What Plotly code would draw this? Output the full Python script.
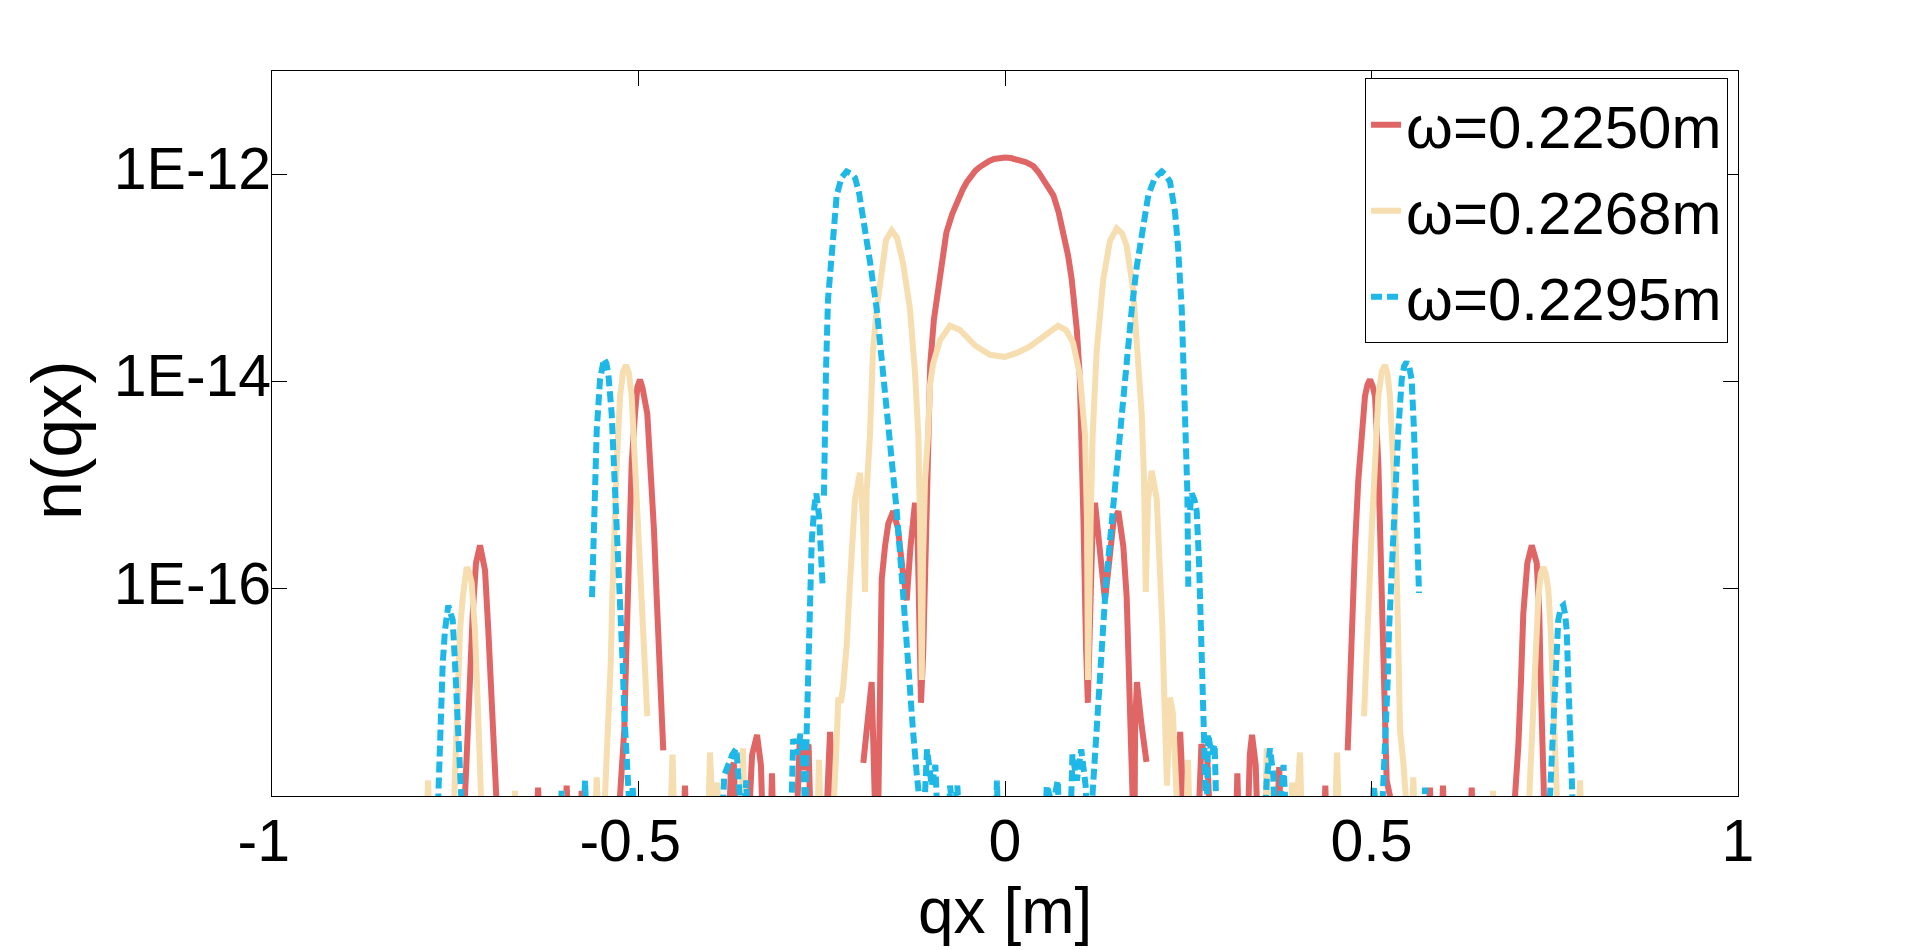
import plotly.graph_objects as go

# momentum qx and log10 of n(qx); None = no value (gap in the curve)
red_qx = [-0.800, -0.745, -0.7367, -0.7330, -0.7299, -0.7262, -0.7217, -0.7162, -0.7094, -0.7049,
          -0.7016, -0.6981, -0.6944, -0.690, -0.641, -0.637, -0.633, -0.602, -0.598, -0.594,
          -0.581, -0.5775, -0.574, -0.528, -0.5252, -0.5229, -0.5194, -0.5171, -0.5147, -0.5126,
          -0.5093, -0.5048, -0.5015, -0.4980, -0.4945, -0.4880, -0.4834, -0.4789, -0.4752, -0.4716,
          -0.4684, -0.4662, -0.4650, -0.440, -0.4366, -0.433, -0.378, -0.374, -0.370, -0.366,
          -0.352, -0.345, -0.3383, -0.333, -0.329, -0.321, -0.3179, -0.315, -0.286, -0.280,
          -0.274, -0.268, -0.264, -0.246, -0.242, -0.2387, -0.235, -0.231, -0.1945, -0.1933,
          -0.1819, -0.1774, -0.1740, -0.1705, -0.1690, -0.1682, -0.1637, -0.1592, -0.1524, -0.1460,
          -0.1400, -0.1341, -0.1290, -0.1228, -0.1195, -0.1170, -0.1146, -0.1115, -0.1080, -0.1045,
          -0.1020, -0.0970, -0.0930, -0.0880, -0.0800, -0.0720, -0.0640, -0.0580, -0.0520, -0.0460,
          -0.0400, -0.0340, -0.0280, -0.0220, -0.0150, -0.0080, 0.0000, 0.0080, 0.0150, 0.0220,
          0.0280, 0.0340, 0.0390, 0.0460, 0.0520, 0.0590, 0.0660, 0.0730, 0.0796, 0.0860,
          0.0910, 0.0980, 0.1020, 0.1046, 0.1070, 0.1105, 0.1130, 0.1160, 0.1195, 0.1228,
          0.1290, 0.1364, 0.1420, 0.1480, 0.1546, 0.1614, 0.1660, 0.1705, 0.1737, 0.1750,
          0.1765, 0.1775, 0.1800, 0.1860, 0.1930, 0.1950, 0.232, 0.236, 0.239, 0.243,
          0.246, 0.262, 0.268, 0.276, 0.282, 0.314, 0.317, 0.320, 0.330, 0.334,
          0.337, 0.342, 0.346, 0.370, 0.374, 0.378, 0.434, 0.437, 0.440, 0.4660,
          0.4675, 0.4707, 0.4744, 0.4775, 0.4820, 0.4866, 0.4911, 0.4945, 0.4980, 0.5015,
          0.5048, 0.5093, 0.5116, 0.5139, 0.5153, 0.5171, 0.5207, 0.5252, 0.530, 0.576,
          0.5798, 0.583, 0.594, 0.5975, 0.601, 0.633, 0.6367, 0.640, 0.690, 0.6958,
          0.7003, 0.7040, 0.7071, 0.7126, 0.7186, 0.7254, 0.7289, 0.7308, 0.7330, 0.7353,
          0.745, 0.800]
red_lg = [-18.8, -18.6, -18.0, -17.52, -16.88, -16.24, -15.75, -15.58, -15.82, -16.40,
          -16.88, -17.52, -18.0, -18.6, -18.6, -17.92, -18.6, -18.6, -17.90, -18.6,
          -18.6, -17.95, -18.6, -18.6, -18.0, -17.68, -17.36, -16.72, -16.08, -15.43,
          -14.79, -14.31, -14.05, -13.98, -14.06, -14.31, -14.79, -15.43, -16.08, -16.72,
          -17.20, -17.56, None, -18.6, -17.90, -18.6, -18.6, -17.75, -17.68, -18.6,
          -18.6, -17.60, -17.41, -17.70, -18.6, -18.6, -17.78, -18.6, -18.6, -17.45,
          -17.75, -17.50, -18.6, -18.6, -17.70, -17.38, -17.95, -18.6, None, -17.68,
          -16.90, -18.1, -18.6, -17.0, -16.3, -15.91, -15.59, -15.37, -15.25, -15.42,
          -15.80, -16.11, -15.60, -15.17, -15.40, -16.30, -17.10, -16.60, -15.40, -14.50,
          -13.83, -13.40, -13.20, -12.90, -12.56, -12.38, -12.24, -12.15, -12.07, -12.01,
          -11.96, -11.925, -11.89, -11.87, -11.85, -11.84, -11.835, -11.84, -11.85, -11.865,
          -11.88, -11.90, -11.92, -11.98, -12.05, -12.12, -12.20, -12.36, -12.56, -12.78,
          -13.01, -13.50, -13.95, -14.52, -15.33, -16.55, -17.10, -16.30, -15.40, -15.17,
          -15.60, -16.11, -15.75, -15.35, -15.25, -15.59, -16.08, -16.88, -17.52, -18.0,
          -18.6, -17.30, -16.90, -17.30, -17.67, None, -18.6, -17.80, -17.38, -18.0,
          -18.6, -18.6, -17.50, -17.65, -18.6, -18.6, -17.78, -18.6, -18.6, -17.60,
          -17.41, -17.70, -18.6, -18.6, -17.72, -18.6, -18.6, -17.90, -18.6, None,
          -17.56, -16.88, -16.24, -15.59, -14.95, -14.47, -14.14, -14.03, -13.98, -14.04,
          -14.14, -14.79, -15.43, -16.08, -16.72, -17.36, -17.85, -18.0, -18.6, -18.6,
          -17.92, -18.6, -18.6, -17.90, -18.6, -18.6, -17.92, -18.6, -18.6, -18.0,
          -17.52, -16.88, -16.24, -15.75, -15.58, -15.75, -16.24, -16.88, -17.52, -18.0,
          -18.6, -18.8]

yel_qx = [-0.800, -0.791, -0.787, -0.784, -0.758, -0.7513, -0.7490, -0.7458, -0.7435, -0.7398,
          -0.7370, -0.7344, -0.7310, -0.7276, -0.7231, -0.7199, -0.7172, -0.7149, -0.710, -0.672,
          -0.6685, -0.665, -0.609, -0.605, -0.601, -0.561, -0.557, -0.553, -0.5480, -0.5457,
          -0.5434, -0.5398, -0.5379, -0.5357, -0.5334, -0.5297, -0.5252, -0.5210, -0.5171, -0.5130,
          -0.5093, -0.5048, -0.5003, -0.4956, -0.4911, -0.4880, -0.4865, -0.458, -0.4536, -0.450,
          -0.406, -0.4025, -0.398, -0.3925, -0.389, -0.361, -0.3574, -0.354, -0.257, -0.2538,
          -0.250, -0.2370, -0.2342, -0.2296, -0.2274, -0.2240, -0.2210, -0.2160, -0.2115, -0.2046,
          -0.1978, -0.1937, -0.1910, -0.1887, -0.1842, -0.1801, -0.1750, -0.1682, -0.1623, -0.1546,
          -0.1473, -0.1392, -0.1296, -0.1228, -0.1183, -0.1160, -0.1136, -0.1119, -0.1091, -0.1050,
          -0.1023, -0.0982, -0.0887, -0.0750, -0.0614, -0.0409, -0.0205, 0.0000, 0.0170, 0.0341,
          0.0546, 0.0723, 0.0832, 0.0928, 0.1023, 0.1091, 0.1119, 0.1132, 0.1169, 0.1196,
          0.1251, 0.1341, 0.1432, 0.1524, 0.1600, 0.1660, 0.1746, 0.1814, 0.1865, 0.1896,
          0.1920, 0.1951, 0.2001, 0.2070, 0.2115, 0.2146, 0.2169, 0.2183, 0.2210, 0.2251,
          0.2290, 0.2319, 0.2347, 0.2380, 0.2460, 0.2497, 0.2530, 0.3540, 0.3570, 0.3610,
          0.3890, 0.3915, 0.3960, 0.4025, 0.4060, 0.4490, 0.4529, 0.4570, 0.4880, 0.4898,
          0.4925, 0.4956, 0.5003, 0.5048, 0.5093, 0.5140, 0.5184, 0.5220, 0.5252, 0.5297,
          0.5334, 0.5352, 0.5371, 0.5389, 0.5434, 0.5457, 0.5500, 0.5530, 0.5570, 0.5610,
          0.6620, 0.6658, 0.6690, 0.7100, 0.7153, 0.7172, 0.7207, 0.7244, 0.7276, 0.7310,
          0.7344, 0.7380, 0.7412, 0.7445, 0.7472, 0.7494, 0.7517, 0.7560, 0.7810, 0.7844,
          0.7880, 0.8000]
yel_lg = [-18.8, -18.6, -17.85, -18.6, -18.6, -18.0, -17.52, -16.88, -16.40, -16.08,
          -15.86, -15.79, -15.84, -15.94, -16.40, -16.88, -17.52, -18.0, -18.6, -18.6,
          -17.95, -18.6, -18.6, -17.95, -18.6, -18.6, -17.82, -18.6, -18.6, -18.0,
          -17.62, -17.36, -16.72, -16.08, -15.43, -14.79, -14.14, -13.90, -13.84, -13.92,
          -14.14, -14.79, -15.43, -16.08, -16.72, -17.23, None, -18.6, -17.60, -18.6,
          -18.6, -17.58, -18.3, -17.87, -18.6, -18.6, -17.54, -18.6, -18.6, -17.65,
          -18.6, -18.6, -18.0, -17.45, -17.05, -17.10, -16.96, -16.55, -15.94, -15.13,
          -14.88, -15.34, -16.03, -15.05, -14.51, -13.70, -13.30, -12.89, -12.63, -12.54,
          -12.61, -12.85, -13.30, -13.91, -14.51, -15.34, -16.88, -15.74, -14.95, -14.51,
          -14.03, -13.83, -13.60, -13.46, -13.50, -13.65, -13.74, -13.76, -13.72, -13.66,
          -13.55, -13.46, -13.50, -13.62, -13.94, -14.51, -15.34, -16.88, -15.34, -14.51,
          -13.70, -13.01, -12.64, -12.52, -12.57, -12.69, -13.10, -13.70, -14.31, -14.92,
          -16.03, -15.14, -14.86, -15.13, -15.74, -16.35, -16.96, -17.46, -17.90, -17.05,
          -17.20, -17.65, -18.3, -18.6, -18.6, -17.65, -18.6, -18.6, -17.54, -18.6,
          -18.6, -17.87, -18.3, -17.58, -18.6, -18.6, -17.58, -18.6, None, -17.23,
          -16.72, -16.08, -15.43, -14.79, -14.14, -13.90, -13.84, -13.93, -14.14, -14.79,
          -15.43, -16.08, -16.72, -17.36, -17.68, -18.0, -18.6, -18.6, -17.82, -18.6,
          -18.6, -17.95, -18.6, -18.6, -18.0, -17.68, -17.04, -16.56, -16.08, -15.85,
          -15.79, -15.86, -16.01, -16.40, -16.88, -17.52, -18.0, -18.6, -18.6, -17.85,
          -18.6, -18.8]

blu_qx = [-0.800, -0.778, -0.7731, -0.7718, -0.7699, -0.7671, -0.7640, -0.7615, -0.7595, -0.7572,
          -0.7535, -0.7503, -0.7472, -0.7445, -0.7422, -0.738, -0.608, -0.6048, -0.601, -0.576,
          -0.5730, -0.5690, -0.5645, -0.5634, -0.5625, -0.5603, -0.5570, -0.5525, -0.5500, -0.5471,
          -0.5440, -0.5412, -0.5366, -0.5321, -0.5276, -0.5243, -0.5216, -0.5194, -0.5171, -0.5147,
          -0.5134, -0.5110, -0.5080, -0.5040, -0.388, -0.383, -0.372, -0.3665, -0.362, -0.358,
          -0.353, -0.349, -0.293, -0.289, -0.284, -0.279, -0.275, -0.2725, -0.2705, -0.2682,
          -0.2660, -0.2637, -0.2600, -0.2574, -0.2537, -0.2487, -0.2476, -0.2470, -0.2465, -0.2442,
          -0.2415, -0.2364, -0.2296, -0.2230, -0.2160, -0.2100, -0.2046, -0.1990, -0.1937, -0.1842,
          -0.1750, -0.1664, -0.1569, -0.1477, -0.1392, -0.1323, -0.1255, -0.1205, -0.1173, -0.1130,
          -0.1064, -0.1000, -0.0950, -0.0900, -0.0780, -0.0750, -0.0700, -0.0650, -0.0600, -0.0140,
          -0.0110, -0.0080, 0.0530, 0.0570, 0.0650, 0.0720, 0.0760, 0.0880, 0.0920, 0.0980,
          0.1040, 0.1100, 0.1140, 0.1205, 0.1251, 0.1296, 0.1337, 0.1378, 0.1432, 0.1473,
          0.1524, 0.1569, 0.1610, 0.1660, 0.1729, 0.1797, 0.1865, 0.1955, 0.2046, 0.2138,
          0.2190, 0.2251, 0.2319, 0.2360, 0.2411, 0.2442, 0.2469, 0.2487, 0.2501, 0.2512,
          0.2524, 0.2547, 0.2585, 0.2615, 0.2647, 0.2674, 0.2692, 0.2715, 0.2729, 0.2750,
          0.2770, 0.2820, 0.2860, 0.2900, 0.3520, 0.3570, 0.3615, 0.3660, 0.3700, 0.3800,
          0.3860, 0.4980, 0.5030, 0.5090, 0.5154, 0.5175, 0.5198, 0.5221, 0.5239, 0.5266,
          0.5297, 0.5334, 0.5366, 0.5412, 0.5445, 0.5480, 0.5515, 0.5548, 0.5580, 0.5603,
          0.5621, 0.5634, 0.5648, 0.5660, 0.5700, 0.5730, 0.5760, 0.7390, 0.7435, 0.7458,
          0.7480, 0.7513, 0.7548, 0.7585, 0.7617, 0.7640, 0.7663, 0.7685, 0.7708, 0.7731,
          0.7770, 0.8000]
blu_lg = [-18.8, -18.6, -18.0, -17.68, -17.20, -16.72, -16.40, -16.22, -16.16, -16.22,
          -16.30, -16.72, -17.20, -17.68, -18.0, -18.6, -18.6, -17.95, -18.6, -18.6,
          -17.85, -18.6, None, -16.08, -15.75, -15.11, -14.47, -13.98, -13.84, -13.78,
          -13.82, -13.92, -14.31, -14.95, -15.59, -16.24, -16.72, -17.20, -17.62, -17.85,
          -18.0, -18.3, -17.90, -18.6, -18.6, -17.80, -17.60, -17.54, -18.0, -18.6,
          -17.85, -18.6, -18.6, -17.45, -17.60, -17.40, -17.70, -18.2, -17.37, -16.76,
          -15.98, -15.54, -15.20, -15.08, -15.30, -15.98, None, -15.10, -14.72, -13.90,
          -13.21, -12.69, -12.20, -12.03, -11.97, -11.99, -12.03, -12.18, -12.40, -12.84,
          -13.30, -13.91, -14.51, -15.25, -16.03, -16.76, -17.37, -17.78, -18.0, -18.6,
          -17.55, -17.90, -17.70, -18.6, -18.6, -17.90, -18.2, -17.90, -18.6, -18.6,
          -17.85, -18.6, -18.6, -17.90, -18.1, -17.85, -18.6, -18.6, -17.60, -17.85,
          -17.55, -17.90, -18.6, -17.86, -17.29, -16.76, -16.35, -15.94, -15.54, -15.21,
          -14.84, -14.44, -14.11, -13.70, -13.30, -12.89, -12.56, -12.20, -12.03, -11.97,
          -12.00, -12.07, -12.36, -12.69, -13.30, -13.91, -14.51, -15.05, -15.98, None,
          -15.24, -15.08, -15.14, -15.25, -15.74, -16.35, -16.96, -17.45, -17.85, -18.3,
          -17.40, -17.60, -17.50, -18.6, -18.6, -17.85, -17.54, -17.80, -18.6, -17.70,
          -18.6, -18.6, -17.90, -18.3, -18.0, -17.68, -17.36, -16.88, -16.40, -15.91,
          -15.43, -14.95, -14.47, -13.98, -13.85, -13.81, -13.86, -13.98, -14.47, -14.95,
          -15.43, -15.75, -16.04, None, -18.6, -17.92, -18.6, -18.6, -18.0, -17.68,
          -17.20, -16.72, -16.30, -16.18, -16.16, -16.24, -16.40, -16.88, -17.36, -18.0,
          -18.6, -18.8]

names = ["ω=0.2250m", "ω=0.2268m", "ω=0.2295m"]
colors = ["#E06666", "#F6DEB0", "#1DB7E8"]
dashes = ["solid", "solid", "11px,5px"]
y_ticks = [1e-16, 1e-14, 1e-12]
y_labels = ["1E-16", "1E-14", "1E-12"]
x_ticks = [-1, -0.5, 0, 0.5, 1]
# trailing no-break space nudges the negative labels left like in the original
x_labels = ["-1\u00a0", "-0.5\u00a0", "0", "0.5", "1"]

FONT = "Liberation Sans, Arial, sans-serif"


def to_n(lg):
    return [None if v is None else 10.0 ** v for v in lg]


fig = go.Figure()
for i, (qx, lg) in enumerate([(red_qx, red_lg), (yel_qx, yel_lg), (blu_qx, blu_lg)]):
    fig.add_trace(go.Scatter(
        x=qx, y=to_n(lg), mode="lines", name=names[i],
        line=dict(color=colors[i], width=6, dash=dashes[i]),
        connectgaps=False, legendgroup=str(i),
    ))

fig.update_layout(
    width=1920, height=950,
    margin=dict(l=264, r=190, t=63, b=162),
    paper_bgcolor="white", plot_bgcolor="white",
    font=dict(family=FONT, color="black"),
    showlegend=True,
    legend=dict(
        x=0.7456, y=0.990, xanchor="left", yanchor="top",
        bgcolor="white", bordercolor="black", borderwidth=1,
        font=dict(size=60, family=FONT), tracegroupgap=5,
    ),
    annotations=[
        dict(text="qx [m]", xref="paper", yref="paper", x=0.5, y=-0.159,
             xanchor="center", yanchor="middle", showarrow=False,
             font=dict(size=64, family=FONT)),
        dict(text="n(qx)", xref="paper", yref="paper", x=-0.1465, y=0.49,
             xanchor="center", yanchor="middle", showarrow=False, textangle=-90,
             font=dict(size=70, family=FONT)),
    ],
)
fig.update_xaxes(
    range=[-1, 1], tickvals=x_ticks, ticktext=x_labels,
    ticks="inside", ticklen=15, tickwidth=1, tickcolor="black",
    showline=True, linecolor="black", linewidth=1, mirror="ticks",
    showgrid=False, zeroline=False, tickfont=dict(size=59, family=FONT),
    ticklabelstandoff=-7,
)
fig.update_yaxes(
    type="log", range=[-18, -11], tickvals=y_ticks, ticktext=y_labels,
    ticks="inside", ticklen=15, tickwidth=1, tickcolor="black",
    showline=True, linecolor="black", linewidth=1, mirror="ticks",
    showgrid=False, zeroline=False, tickfont=dict(size=59, family=FONT),
    ticklabelstandoff=-12, ticklabelshift=-6,
)

fig.write_html("out.html")
